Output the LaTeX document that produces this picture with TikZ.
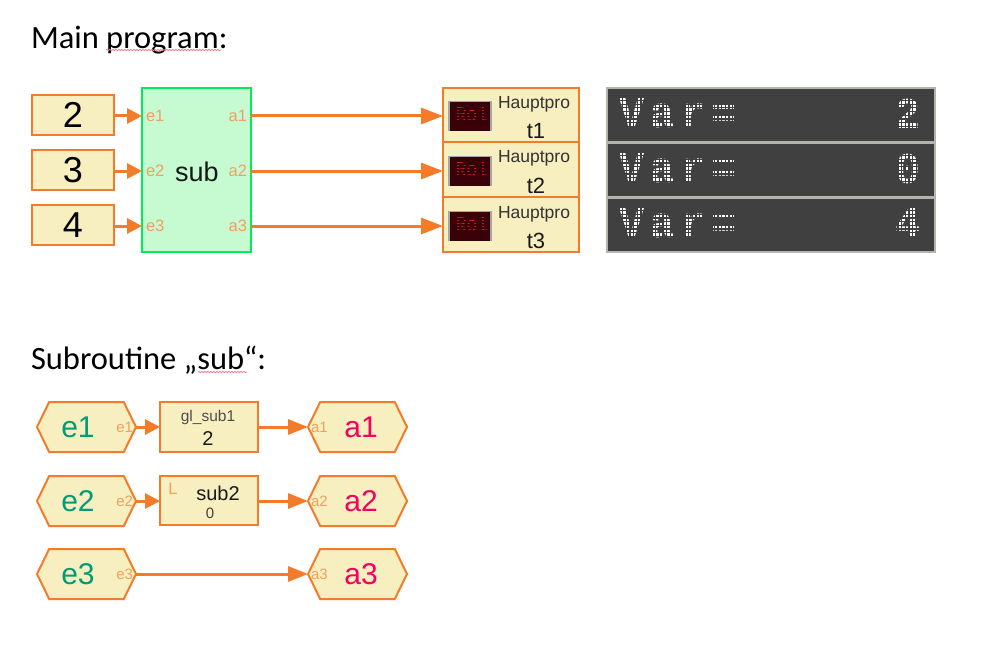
\documentclass[tikz,border=0pt]{standalone}
\usepackage{fontspec}
\setmainfont{Liberation Sans}
\newfontfamily\headfont{Carlito}
\newfontfamily\dotfont{Liberation Mono}
\newfontfamily\matrixfont[LetterSpace=14]{Liberation Mono Bold}
\usetikzlibrary{arrows.meta,shapes.symbols,decorations.pathmorphing}
\newcommand{\fs}[1]{\fontsize{#1}{#1}\selectfont}
\definecolor{wire}{HTML}{F47B2A}
\definecolor{cream}{HTML}{F7EFC0}
\definecolor{portc}{HTML}{F0A060}
\definecolor{boxgreen}{HTML}{00EE55}
\definecolor{mint}{HTML}{C6FBD2}
\definecolor{panelc}{HTML}{404040}
\definecolor{panelb}{HTML}{B4B4AC}
\definecolor{teal}{HTML}{009B77}
\definecolor{crimson}{HTML}{F5005F}
\definecolor{squig}{HTML}{F08090}
\definecolor{ledbg}{HTML}{3A0008}
\definecolor{ledfg}{HTML}{D81838}
\tikzset{
  every node/.style={inner sep=0pt,outer sep=0pt},
  wireshort/.style={draw=wire,line width=3pt,-{Triangle[length=15pt,width=15pt]}},
  wirelong/.style={draw=wire,line width=3pt,-{Triangle[length=22pt,width=16pt]}},
  wiremid/.style={draw=wire,line width=3pt,-{Triangle[length=20pt,width=15pt]}},
  inbox/.style={draw=wire,fill=cream,line width=2.4pt,minimum width=82pt,minimum height=40pt,font=\fs{36}},
  subbox/.style={draw=boxgreen,fill=mint,line width=2.6pt,minimum width=109pt,minimum height=164pt},
  outbox/.style={draw=wire,fill=cream,line width=2.2pt,minimum width=136pt,minimum height=54.5pt},
  portlabel/.style={text=portc,font=\fs{16.5}},
  smallport/.style={text=portc,font=\fs{15}},
  ledframe/.style={draw=black!35,fill=ledbg,line width=2pt,minimum width=42pt,minimum height=28pt},
  ledtext/.style={text=ledfg,font=\dotfont\fs{21},xscale=.85},
  hauptlabel/.style={text=black!80,font=\fs{17.5}},
  tlabel/.style={text=black!90,font=\fs{22}},
  panel/.style={fill=panelc,minimum width=328pt,minimum height=54pt},
  panelline/.style={draw=panelb,line width=1.5pt},
  dottext/.style={text=white,font=\matrixfont\fs{44},xscale=.95},
  hexnode/.style={draw=wire,fill=cream,line width=2pt,shape=signal,signal to=west and east,signal pointer angle=128,minimum width=99pt,minimum height=50pt},
  funcbox/.style={draw=wire,fill=cream,line width=2.2pt,minimum width=98pt,minimum height=49.5pt},
  heading/.style={anchor=base west,font=\headfont\fs{32.5},text=black},
  squiggle/.style={draw=squig,line width=.8pt,decorate,decoration={snake,amplitude=.7pt,segment length=3pt}},
}
\begin{document}
\begin{tikzpicture}[x=1pt,y=-1pt]
\useasboundingbox[fill=white] (0,0) rectangle (1000,650);

% headings
\node[heading] (h1) at (31,48.5) {Main program:};
\node[heading] (h2) at (31,369) {Subroutine „sub“:};
\coordinate (s1a) at (106,50); \coordinate (s1b) at (221,50);
\coordinate (s2a) at (198,372); \coordinate (s2b) at (247,372);
\draw[squiggle] (s1a) -- (s1b);
\draw[squiggle] (s2a) -- (s2b);

% main program
\node[inbox] (in1) at (73,115) {2};
\node[inbox] (in2) at (73,170) {3};
\node[inbox] (in3) at (73,225) {4};
\node[subbox] (sub) at (196.5,170) {};
\node[font=\fs{27},text=black!90] (subname) at (197,172) {sub};
\foreach \i/\y in {1/116,2/171,3/226}{
  \coordinate (pe\i) at (142,\y);
  \coordinate (pa\i) at (251,\y);
  \node[portlabel,anchor=west] (le\i) at (146,\y) {e\i};
  \node[portlabel,anchor=east] (la\i) at (247,\y) {a\i};
}
\node[outbox] (t1) at (511,115) {};
\node[outbox] (t2) at (511,169.5) {};
\node[outbox] (t3) at (511,224.5) {};
\foreach \i/\y in {1/116,2/171,3/226}{ \coordinate (pt\i) at (443,\y); }
\draw[wireshort] (in1.east |- pe1) -- (pe1);
\draw[wireshort] (in2.east |- pe2) -- (pe2);
\draw[wireshort] (in3.east |- pe3) -- (pe3);
\draw[wirelong] (pa1) -- (pt1);
\draw[wirelong] (pa2) -- (pt2);
\draw[wirelong] (pa3) -- (pt3);
\foreach \i/\y/\z/\l in {1/116/104.5/131,2/171/158.5/186,3/226/214/241}{
  \node[ledframe] (led\i) at (470,\y) {};
  \node[ledtext] (ledt\i) at (472,\y-2) {Rol};
  \foreach \k in {0,...,19}{
    \draw[ledbg,line width=.45pt] (450,\y-14+\k*1.5) -- (490,\y-14+\k*1.5);
  }
  \node[hauptlabel] (hp\i) at (534,\z) {Hauptpro};
  \node[tlabel] (tl\i) at (536,\l) {t\i};
}

% display panel
\node[panel] (p1) at (771,115) {};
\node[panel] (p2) at (771,170) {};
\node[panel] (p3) at (771,225) {};
\foreach \i/\y/\d in {1/113.5/2,2/168.5/0,3/223.5/4}{
  \node[dottext,anchor=west] (var\i) at (619,\y) {Var=};
  \node[dottext] (val\i) at (908,\y) {\d};
}
\foreach \k in {0,...,89}{
  \draw[panelc,line width=1.3pt] (608+\k*3.67,89) -- (608+\k*3.67,251);
}
\foreach \k in {0,...,44}{
  \draw[panelc,line width=1.3pt] (608,89.5+\k*3.67) -- (935,89.5+\k*3.67);
}
\foreach \i in {1,2,3}{
  \draw[panelline] (p\i.south west) rectangle (p\i.north east);
}

% subroutine
\foreach \i/\y in {1/427,2/501,3/574}{
  \node[hexnode] (he\i) at (86.5,\y) {};
  \node[hexnode] (ha\i) at (357.5,\y) {};
  \node[text=teal,font=\fs{30}] (ne\i) at (78,\y) {e\i};
  \node[text=crimson,font=\fs{30}] (na\i) at (361,\y) {a\i};
  \node[smallport,anchor=east] (se\i) at (133,\y) {e\i};
  \node[smallport,anchor=west] (sa\i) at (311,\y) {a\i};
}
\node[funcbox] (f1) at (209,427) {};
\node[funcbox] (f2) at (209,500.5) {};
\draw[wireshort] (he1.east) -- (f1.west);
\draw[wireshort] (he2.east) -- (f2.west |- he2.east);
\draw[wiremid] (f1.east) -- (ha1.west);
\draw[wiremid] (f2.east |- ha2.west) -- (ha2.west);
\draw[wiremid] (he3.east) -- (ha3.west);
\node[text=black!70,font=\fs{15.5}] (g1) at (208,417) {gl\_sub1};
\node[text=black!90,font=\fs{20}] (g2) at (208,438.5) {2};
\node[text=portc,font=\fs{16.5}] (g3) at (173,489) {L};
\node[text=black!90,font=\fs{20}] (g4) at (218,493) {sub2};
\node[text=black!75,font=\fs{15}] (g5) at (210,513) {0};
\end{tikzpicture}
\end{document}
